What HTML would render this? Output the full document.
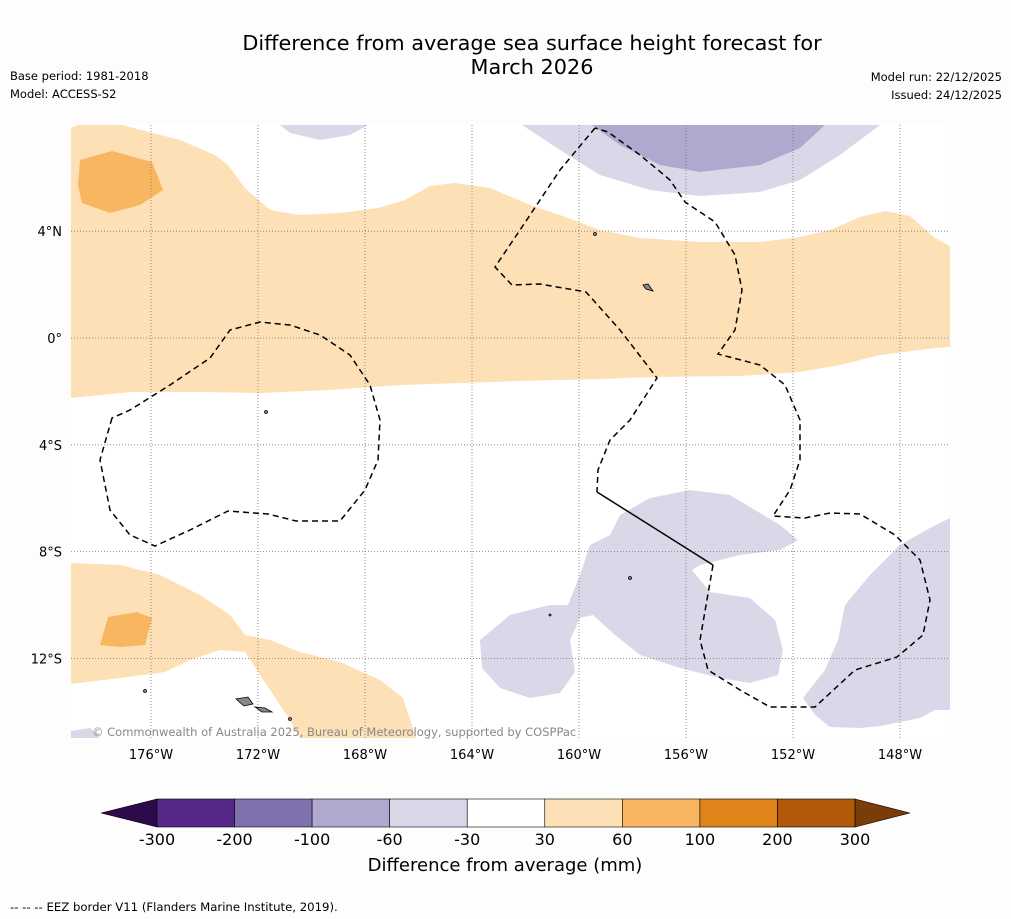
<!DOCTYPE html>
<html><head><meta charset="utf-8"><style>
body{margin:0;background:#fdfdfd;font-family:"DejaVu Sans","Liberation Sans",sans-serif;}
svg{display:block}
</style></head><body>
<svg width="1011" height="919" viewBox="0 0 1011 919" xmlns="http://www.w3.org/2000/svg" font-family="DejaVu Sans, Liberation Sans, sans-serif">
<rect width="1011" height="919" fill="#fdfdfd"/>
<text x="532" y="50" font-size="20.8" text-anchor="middle">Difference from average sea surface height forecast for</text>
<text x="532" y="74" font-size="20.8" text-anchor="middle">March 2026</text>
<text x="10" y="80" font-size="11.5">Base period: 1981-2018</text>
<text x="10" y="98" font-size="11.5">Model: ACCESS-S2</text>
<text x="1002" y="81" font-size="11.5" text-anchor="end">Model run: 22/12/2025</text>
<text x="1002" y="99" font-size="11.5" text-anchor="end">Issued: 24/12/2025</text>
<g id="map">
<rect x="71" y="125" width="879" height="613" fill="#ffffff"/>
<path fill="#fde0b6" d="M71,128 L78,125 L122,125 L180,140 L215,155 L228,165 L245,188 L270,210 L300,215 L340,213 L378,208 L405,200 L430,186 L455,183 L490,188 L530,205 L560,215 L600,230 L640,238 L700,242 L760,242 L800,237 L830,230 L860,217 L885,211 L910,216 L935,238 L950,246 L950,347 L935,348 L880,355 L840,365 L800,372 L740,376 L650,377 L600,379 L520,381 L460,383 L400,385 L330,390 L260,393 L200,392 L130,392 L71,398 Z"/>
<path fill="#f9b660" d="M80,160 L112,151 L152,162 L163,190 L140,205 L110,213 L82,203 L78,185 Z"/>
<path fill="#fde0b6" d="M71,563 L120,565 L160,575 L200,595 L230,615 L245,635 L270,640 L300,652 L340,662 L380,680 L403,698 L416,738 L300,738 L290,720 L270,690 L245,652 L220,650 L190,660 L165,672 L120,678 L71,684 Z"/>
<path fill="#f9b660" d="M108,617 L137,612 L152,618 L145,645 L120,647 L100,645 Z"/>
<path fill="#d8d8e9" d="M280,125 L290,133 L320,140 L350,135 L368,125 Z"/>
<path fill="#d8d8e9" d="M522,125 L560,150 L600,175 L650,190 L700,196 L760,192 L800,180 L840,155 L880,125 Z"/>
<path fill="#b0a8cf" d="M592,125 L620,145 L660,165 L700,172 L760,165 L800,148 L825,125 Z"/>
<path fill="#d8d8e9" d="M480,640 L510,615 L550,605 L568,605 L580,575 L590,545 L610,535 L620,515 L650,498 L690,490 L730,495 L780,525 L798,540 L780,550 L740,555 L700,565 L692,570 L710,592 L750,598 L775,620 L783,650 L778,675 L750,683 L720,678 L680,668 L640,655 L615,635 L593,615 L580,618 L570,640 L575,672 L560,693 L530,698 L500,688 L482,668 Z"/>
<path fill="#d8d8e9" d="M803,698 L825,670 L838,640 L845,605 L870,575 L900,545 L930,528 L950,518 L950,710 L935,710 L920,718 L900,722 L880,726 L860,728 L830,727 L815,715 Z"/>
<path fill="#d8d8e9" d="M71,731 L90,728 L100,738 L71,738 Z"/>
<g id="grid" stroke="#777" stroke-width="0.8" stroke-dasharray="1,2" fill="none"></g>
<g fill="none" stroke="#000" stroke-width="1.5">
<path stroke-dasharray="6,4" d="M112,418 L100,460 L110,510 L130,535 L155,546 L190,530 L228,511 L268,514 L296,521 L340,521 L365,490 L378,460 L380,420 L370,385 L350,355 L320,335 L290,325 L260,322 L230,330 L210,358 L170,385 L130,410 Z"/>
<path stroke-dasharray="6,4" d="M595,128 L560,170 L520,230 L495,267 L512,285 L540,284 L586,292 L620,330 L657,378 L630,420 L610,440 L598,470 L597,492"/>
<path d="M597,492 L713,565"/>
<path stroke-dasharray="6,4" d="M713,565 L700,640 L708,670 L740,690 L770,707 L815,707 L855,670 L897,657 L923,635 L930,600 L920,560 L895,535 L860,514 L830,513 L805,518 L773,516 L790,490 L800,460 L800,420 L785,385 L760,365 L718,354 L735,330 L742,290 L735,255 L715,222 L685,202 L670,180 L640,155 L608,132 L595,128"/>
</g>
<g fill="#888" stroke="#000" stroke-width="0.8">
<path d="M236,699 L248,697 L253,704 L244,706 Z"/>
<path d="M255,707 L265,708 L272,712 L262,712 Z"/>
<path d="M643,285 L648,284 L653,291 L646,289 Z"/>
<circle cx="595" cy="234" r="1.5"/><circle cx="266" cy="412" r="1.5"/><circle cx="145" cy="691" r="1.5"/>
<circle cx="550" cy="615" r="1"/><circle cx="630" cy="578" r="1.5"/><circle cx="290" cy="719" r="1.5"/>
</g>
<text x="92" y="736" font-size="11.5" fill="#888">© Commonwealth of Australia 2025, Bureau of Meteorology, supported by COSPPac</text>
</g>
<g id="axislabels" font-size="13" fill="#000"></g>
<g id="colorbar"></g>
<text x="505" y="871" font-size="18" text-anchor="middle">Difference from average (mm)</text>
<text x="10" y="911" font-size="11.7">--  --  -- EEZ border V11 (Flanders Marine Institute, 2019).</text>
</svg>
<script>
const lonTicks=[-176,-172,-168,-164,-160,-156,-152,-148];
const latTicks=[4,0,-4,-8,-12];
const cbBounds=[-300,-200,-100,-60,-30,30,60,100,200,300];
const cbColors=["#562887","#7f71ab","#b0a8cf","#d8d8e9","#ffffff","#fde0b6","#f9b660","#e08318","#b05a0a"];
const ns="http://www.w3.org/2000/svg";
const lonX=l=>151+(l+176)*26.75;
const latY=l=>338-l*26.7;
const grid=document.getElementById('grid');
const al=document.getElementById('axislabels');
function mk(t,a,p){const e=document.createElementNS(ns,t);for(const k in a)e.setAttribute(k,a[k]);p.appendChild(e);return e;}
lonTicks.forEach(l=>{
 const x=lonX(l);
 const g=mk('line',{x1:x,x2:x,y1:125,y2:738},grid);
 
 
 const t=mk('text',{x:x,y:759,'text-anchor':'middle'},al);
 t.textContent=Math.abs(l)+'°W';
 
 
});
latTicks.forEach(l=>{
 const y=latY(l);
 const g=mk('line',{x1:71,x2:950,y1:y,y2:y},grid);
 
 
 const t=mk('text',{x:62,y:y+5,'text-anchor':'end'},al);
 t.textContent=l===0?'0°':Math.abs(l)+'°'+(l>0?'N':'S');
 
 
});
const cb=document.getElementById('colorbar');
const x0=157,x1=855,y0=799,h=28,n=cbColors.length,w=(x1-x0)/n;
const lt=mk('path',{d:`M${x0},${y0} L101,${y0+h/2} L${x0},${y0+h} Z`,fill:'#2d0a4a',stroke:'#000','stroke-width':0.6},cb);


const rt=mk('path',{d:`M${x1},${y0} L910,${y0+h/2} L${x1},${y0+h} Z`,fill:'#7a3d08',stroke:'#000','stroke-width':0.6},cb);


cbColors.forEach((c,i)=>{
 const r=mk('rect',{x:x0+i*w,y:y0,width:w,height:h,fill:c,stroke:'#000','stroke-width':0.6},cb);
 
 
});
cbBounds.forEach((b,i)=>{
 const t=mk('text',{x:x0+i*w,y:845,'text-anchor':'middle','font-size':16},cb);
 t.textContent=b;
 
 
});
</script>
</body></html>
